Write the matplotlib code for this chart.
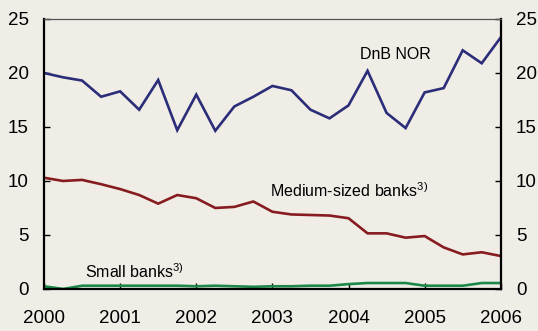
import numpy as np
import matplotlib
matplotlib.use('Agg')
import matplotlib.pyplot as plt

plt.rcParams['font.family'] = ['Liberation Sans', 'DejaVu Sans']
plt.rcParams['mathtext.fontset'] = 'custom'
plt.rcParams['mathtext.rm'] = 'Liberation Sans'

# Quarterly data, 2000 Q1 .. 2006 Q1
quarters = 2000 + np.arange(25) * 0.25
dnb_nor = [20.0, 19.6, 19.3, 17.8, 18.3, 16.6, 19.35, 14.7, 18.0, 14.65, 16.9, 17.8, 18.8,
           18.4, 16.6, 15.8, 17.0, 20.2, 16.3, 14.9, 18.2, 18.6, 22.1, 20.9, 23.3]
medium = [10.3, 10.0, 10.1, 9.7, 9.25, 8.7, 7.9, 8.7, 8.4, 7.5, 7.6, 8.1, 7.15,
          6.9, 6.85, 6.8, 6.55, 5.15, 5.15, 4.75, 4.9, 3.85, 3.2, 3.4, 3.05]
small = [0.25, 0.0, 0.3, 0.3, 0.3, 0.3, 0.3, 0.3, 0.25, 0.3, 0.25, 0.2, 0.25,
         0.25, 0.3, 0.3, 0.45, 0.55, 0.55, 0.55, 0.3, 0.3, 0.3, 0.55, 0.55]
years = [2000, 2001, 2002, 2003, 2004, 2005, 2006]
yticks = [0, 5, 10, 15, 20, 25]

bg = '#f0ede7'
fig = plt.figure(figsize=(5.38, 3.31), dpi=100, facecolor=bg)
ax = fig.add_axes([0.0818, 0.127, 0.849, 0.8156], facecolor=bg)

ax.plot(quarters, dnb_nor, color='#2b2d78', lw=1.9, solid_joinstyle='miter')
ax.plot(quarters, medium, color='#861c1f', lw=1.9)
ax.plot(quarters, small, color='#1d8749', lw=1.9)

ax.set_xlim(2000, 2006)
ax.set_ylim(0, 25)
ax.set_xticks(years)
ax.set_yticks(yticks)

ax.tick_params(axis='x', direction='in', length=4, width=1, pad=15, labelsize=13.5)
ax.tick_params(axis='y', direction='in', length=4, width=1, pad=11, labelsize=13.5,
               left=True, right=True, labelleft=True, labelright=True)
ax.tick_params(axis='y', which='both', labelright=True)

for s in ['left', 'right', 'bottom']:
    ax.spines[s].set_linewidth(1.6)
    ax.spines[s].set_color('black')
ax.spines['top'].set_color('#555555')
ax.spines['top'].set_linewidth(0.9)

ax.text(2004.61, 21.7, 'DnB NOR', fontsize=11.5, ha='center', va='center')
ax.text(2002.97, 9.1, r'Medium-sized banks$^{\mathregular{3)}}$', fontsize=11.5,
        ha='left', va='center')
ax.text(2000.54, 1.6, r'Small banks$^{\mathregular{3)}}$', fontsize=11.5,
        ha='left', va='center')

fig.savefig('out.png', dpi=100, facecolor=bg)
